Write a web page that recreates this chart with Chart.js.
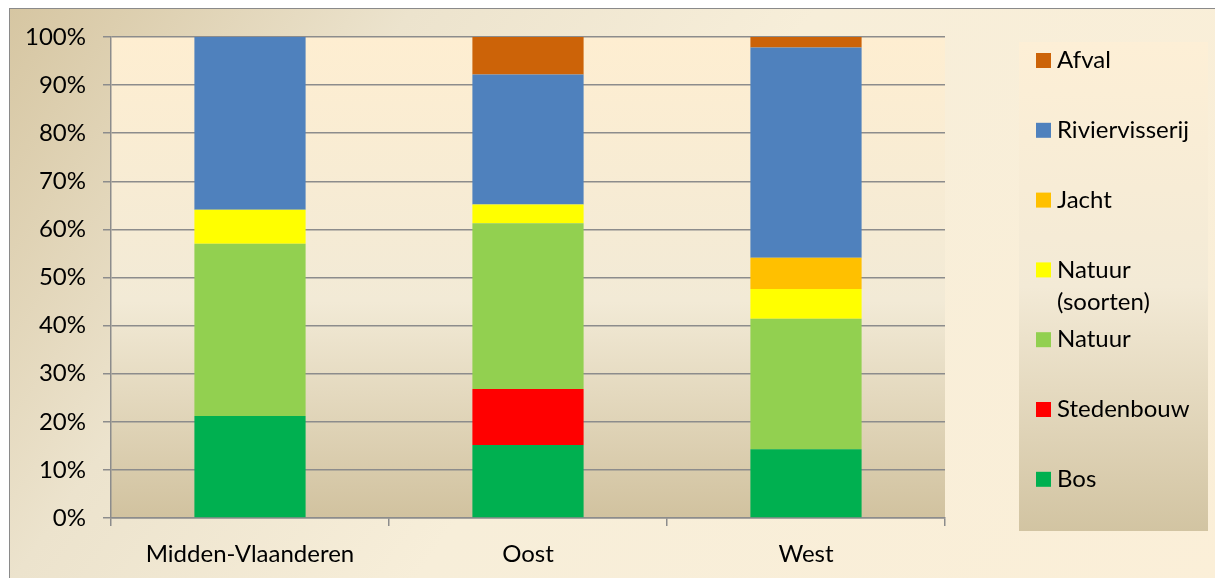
<!DOCTYPE html>
<html>
<head>
<meta charset="utf-8">
<script src="https://cdn.jsdelivr.net/npm/chart.js@4/dist/chart.umd.min.js"></script>
<style>
  body { margin: 0; background: #fff; }
  #frame {
    position: absolute; left: 9px; top: 8px; width: 1210px; height: 575px;
    border-left: 1px solid #8a8a8a; border-top: 1px solid #8a8a8a;
    background: linear-gradient(125deg, #d6c6a2 0%, #ece3cd 25%, #f7eed9 50%, #fbefd8 100%);
  }
  #chart { position: absolute; left: 0; top: 0; }
</style>
</head>
<body>
<div id="frame"></div>
<canvas id="chart" width="1215" height="578"></canvas>
<script>
const regions = ["Midden-Vlaanderen", "Oost", "West"];

const bos = [21.2, 15.2, 14.3];
const stedenbouw = [0, 11.6, 0];
const natuur = [35.8, 34.5, 27.1];
const natuurSoorten = [7.1, 3.9, 6.2];
const jacht = [0, 0, 6.5];
const riviervisserij = [35.9, 27.0, 43.7];
const afval = [0, 7.8, 2.2];

const yTicks = [0, 10, 20, 30, 40, 50, 60, 70, 80, 90, 100];

function makeSet(label, data, color){
    return {
        label: label,
        data: data,
        backgroundColor: color,
        borderWidth: 0
    };
}

// plot area + legend box backgrounds, legend drawn by hand
const backdrop = {
    id: "backdrop",
    beforeDraw(chart){
        const ctx = chart.ctx;
        const a = chart.chartArea;
        const g = ctx.createLinearGradient(0, a.top, 0, a.bottom);
        g.addColorStop(0, "#feeed1");
        g.addColorStop(0.55, "#f2ead6");
        g.addColorStop(1, "#d1c29f");
        ctx.save();
        ctx.fillStyle = g;
        ctx.fillRect(a.left, a.top, a.right - a.left, a.bottom - a.top);
        ctx.restore();
    },
    afterDraw(chart){
        const ctx = chart.ctx;
        const bx = 1019, by = 42, bw = 189, bh = 489;
        const g = ctx.createLinearGradient(0, by, 0, by + bh);
        g.addColorStop(0, "#fdefd6");
        g.addColorStop(0.5, "#f3ead6");
        g.addColorStop(1, "#d2c4a2");
        ctx.save();
        ctx.fillStyle = g;
        ctx.fillRect(bx, by, bw, bh);

        ctx.font = "24px Lato";
        ctx.textBaseline = "middle";
        const sets = chart.data.datasets.slice().reverse();
        sets.forEach((ds, i) => {
            const y = 60.5 + i * 69.8;
            ctx.fillStyle = ds.backgroundColor;
            ctx.fillRect(1036, y - 7.5, 15, 15);
            ctx.fillStyle = "#000";
            // wrap long labels
            const words = ds.label.split(" ");
            let lines = [], line = "";
            words.forEach(w => {
                const test = line ? line + " " + w : w;
                if (line && ctx.measureText(test).width > 140) { lines.push(line); line = w; }
                else line = test;
            });
            lines.push(line);
            lines.forEach((l, k) => ctx.fillText(l, 1057, y + k * 32));
        });
        ctx.restore();
    }
};

new Chart(document.getElementById("chart"), {
    type: "bar",
    data: {
        labels: regions,
        datasets: [
            makeSet("Bos", bos, "#00b050"),
            makeSet("Stedenbouw", stedenbouw, "#ff0000"),
            makeSet("Natuur", natuur, "#92d050"),
            makeSet("Natuur (soorten)", natuurSoorten, "#ffff00"),
            makeSet("Jacht", jacht, "#ffc000"),
            makeSet("Riviervisserij", riviervisserij, "#4f81bd"),
            makeSet("Afval", afval, "#cc6308")
        ]
    },
    options: {
        responsive: false,
        animation: false,
        layout: { padding: { left: 0, top: 37, right: 270, bottom: 0 } },
        datasets: { bar: { categoryPercentage: 1, barPercentage: 0.4 } },
        scales: {
            x: {
                stacked: true,
                grid: { drawOnChartArea: false, drawTicks: true, tickLength: 8, color: "#8c8c8c", lineWidth: 1.5 },
                border: { display: true, color: "#8c8c8c", width: 1.5 },
                ticks: { font: { family: "Lato", size: 24 }, color: "#000", padding: 14 },
                afterFit(scale){ scale.height = 60; }
            },
            y: {
                stacked: true,
                min: 0,
                max: 100,
                afterBuildTicks(scale){ scale.ticks = yTicks.map(v => ({ value: v })); },
                grid: { color: "#8c8c8c", lineWidth: 1.5, tickLength: 8 },
                border: { display: true, color: "#8c8c8c", width: 1.5 },
                ticks: {
                    font: { family: "Lato", size: 24 },
                    color: "#000",
                    padding: 17,
                    callback: v => v + "%"
                },
                afterFit(scale){ scale.width = 111; }
            }
        },
        plugins: {
            legend: { display: false },
            tooltip: { enabled: false }
        }
    },
    plugins: [backdrop]
});
</script>
</body>
</html>
